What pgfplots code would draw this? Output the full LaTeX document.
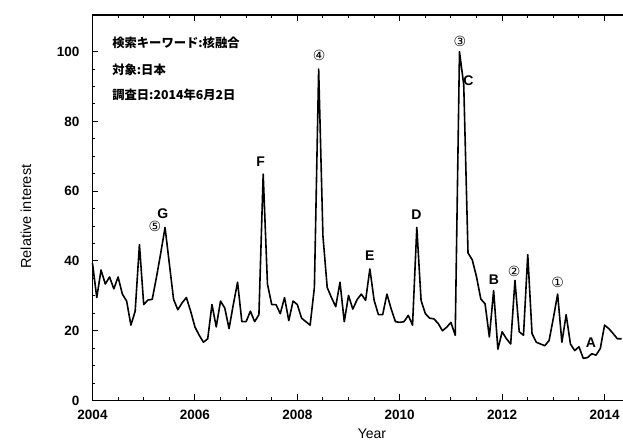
\documentclass[border=0pt]{standalone}
\usepackage{pgfplots}
\pgfplotsset{compat=1.18}
\usepackage{fontspec}
\setmainfont{Liberation Sans}
\newfontfamily\cjk{Noto Sans CJK JP}
\newfontfamily\dejavu{DejaVu Sans}
\pgfplotstableread{
m v
0 39.3
1 29.5
2 37.4
3 33.4
4 35.4
5 32
6 35.4
7 30.5
8 28.5
9 21.6
10 25.6
11 44.7
12 27.5
13 28.8
14 29
15 35.4
16 42.3
17 49.6
18 39.3
19 29
20 26
21 28
22 29.5
23 25.6
24 21.1
25 18.7
26 16.7
27 17.7
28 27.5
29 21.1
30 28.5
31 26.5
32 20.6
33 27.5
34 33.9
35 22.6
36 22.6
37 25.6
38 22.6
39 24.6
40 64.9
41 33.4
42 27.5
43 27.5
44 24.9
45 29.5
46 22.9
47 28.5
48 27.5
49 23.6
50 22.6
51 21.6
52 32.4
53 95
54 47.2
55 32.4
56 29.5
57 26.9
58 33.9
59 22.6
60 30.1
61 26.2
62 28.9
63 30.5
64 28.7
65 37.7
66 28.7
67 24.6
68 24.6
69 30.5
70 26.2
71 22.6
72 22.4
73 22.6
74 24.4
75 21.6
76 49.6
77 28.7
78 24.9
79 23.6
80 23.4
81 22.1
82 20
83 21
84 22.4
85 18.7
86 100
87 90.5
88 42.3
89 40.3
90 35.4
91 29.1
92 27.7
93 18.2
94 31.5
95 14.7
96 19.7
97 17.7
98 16.2
99 34.4
100 19.7
101 18.7
102 41.8
103 19.2
104 16.7
105 16.2
106 15.7
107 17.2
108 23.6
109 30.5
110 16.7
111 24.6
112 16.2
113 14.3
114 15.4
115 12.1
116 12.3
117 13.4
118 13
119 14.9
120 21.6
121 20.6
122 19.2
123 17.7
124 17.7
}\trenddata
\begin{document}
\begin{tikzpicture}
\begin{axis}[
  scale only axis, width=559pt, height=385.5pt,
  xmin=0, xmax=131, ymin=0, ymax=110.5,
  clip=false,
  xtick={0,24,48,72,96,120},
  xticklabels={2004,2006,2008,2010,2012,2014},
  minor xtick={6,12,18,30,36,42,54,60,66,78,84,90,102,108,114,126},
  ytick={0,20,40,60,80,100}, minor y tick num=3,
  axis line style={line width=1.2pt},
  every tick/.style={black,line width=1pt},
  major tick length=6pt, minor tick length=3pt,
  tick label style={font=\fontsize{13.5}{13.5}\selectfont\bfseries},
  /pgf/number format/assume math mode=true,
  yticklabel style={inner sep=0pt, anchor=east, xshift=-13pt},
  xticklabel style={inner sep=0pt, anchor=north, yshift=-9pt},
]
\addplot[black, line width=1.6pt, line join=round] table[x=m, y=v] {\trenddata};

\node[inner sep=0, anchor=north, font=\fontsize{14}{14}\selectfont] at ([yshift=-28.5pt]axis cs:65.5,0) {Year};
\node[inner sep=0, rotate=90, font=\fontsize{14.5}{14.5}\selectfont] at ([xshift=-66.5pt]axis cs:0,52.7) {Relative interest};

\node[anchor=west, inner sep=0, font=\cjk\bfseries\fontsize{12.3}{12.3}\selectfont] at (axis cs:4.6,102.4) {検索キーワード:核融合};
\node[anchor=west, inner sep=0, font=\cjk\bfseries\fontsize{12.3}{12.3}\selectfont] at (axis cs:4.6,94.7) {対象:日本};
\node[anchor=west, inner sep=0, font=\cjk\bfseries\fontsize{12.3}{12.3}\selectfont] at (axis cs:4.6,87.5) {調査日:2014年6月2日};

\tikzset{lett/.style={inner sep=0, font=\fontsize{14}{14}\selectfont\bfseries},
         circ/.style={inner sep=0, font=\dejavu\fontsize{14}{14}\selectfont}}
\node[circ] at (axis cs:14.6,49.8) {⑤};
\node[lett] at (axis cs:16.5,53.6) {G};
\node[lett] at (axis cs:39.4,68.4) {F};
\node[circ] at (axis cs:53.1,99) {④};
\node[lett] at (axis cs:65,41.4) {E};
\node[lett] at (axis cs:75.9,53.2) {D};
\node[circ] at (axis cs:86.1,102.8) {③};
\node[lett] at (axis cs:88.1,91.8) {C};
\node[lett] at (axis cs:94.1,34.5) {B};
\node[circ] at (axis cs:98.8,36.9) {②};
\node[circ] at (axis cs:109,33.8) {①};
\node[lett] at (axis cs:116.8,16.6) {A};

\coordinate (A) at (rel axis cs:0,0);
\coordinate (B) at (rel axis cs:0,1);
\end{axis}
\pgfresetboundingbox
\path ([shift={(-92.5pt,-40.5pt)}]A) rectangle ([shift={(530.5pt,15pt)}]B);
\end{tikzpicture}
\end{document}
